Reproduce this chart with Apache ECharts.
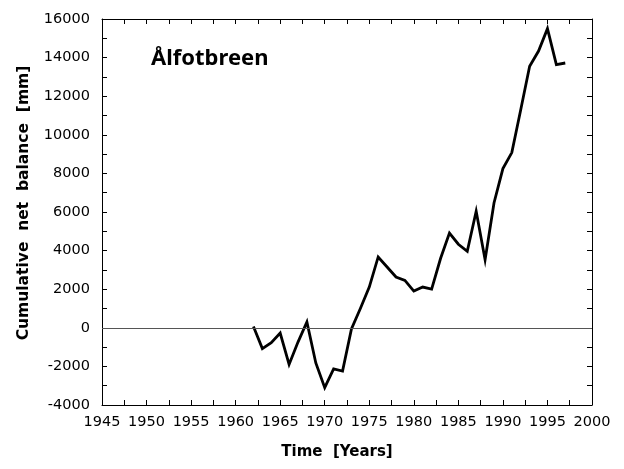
<!DOCTYPE html>
<html>
<head>
<meta charset="utf-8">
<script src="https://cdn.jsdelivr.net/npm/echarts@6/dist/echarts.min.js"></script>
<style>html,body{margin:0;padding:0;background:#fff}#c{width:624px;height:469px}</style>
</head>
<body>
<div id="c"></div>
<script>
var years = [1962,1963,1964,1965,1966,1967,1968,1969,1970,1971,1972,1973,1974,1975,1976,1977,1978,1979,1980,1981,1982,1983,1984,1985,1986,1987,1988,1989,1990,1991,1992,1993,1994,1995,1996,1997];
var cumulativeBalance = [70,-1080,-770,-270,-1900,-740,300,-1820,-3100,-2130,-2240,-60,1000,2110,3670,3150,2630,2460,1900,2110,2000,3590,4910,4330,3960,6040,3530,6470,8250,9080,11300,13550,14340,15500,13640,13720];
var glacierName = '\u00C5lfotbreen';
var xTitle = 'Time  [Years]';
var yTitle = 'Cumulative  net  balance  [mm]';

var FONT = 'DejaVu Sans';
var chart = echarts.init(document.getElementById('c'), null, {renderer:'canvas'});
var data = years.map(function(y,i){return [y, cumulativeBalance[i]];});
var axisLine = {show:true, onZero:false, lineStyle:{color:'#000', width:1}};
var tick = {show:true, inside:true, length:5, lineStyle:{color:'#000', width:1}};
var minor = {show:true, splitNumber:2, length:5, lineStyle:{color:'#000', width:1}};
var plain = function(v){return String(v);};
chart.setOption({
  animation:false,
  backgroundColor:'#fff',
  grid:{left:102, right:32, top:19, bottom:64},
  graphic:[{type:'text', left:151, top:48, style:{text:glacierName, font:'bold 22px "Noto Sans"', fill:'#000'}}],
  xAxis:[{
    type:'value', min:1945, max:2000, interval:5,
    axisLine:axisLine, axisTick:tick, minorTick:minor,
    splitLine:{show:false},
    axisLabel:{color:'#000', fontFamily:FONT, fontSize:14.5, margin:10, formatter:plain},
    name:xTitle, nameLocation:'middle', nameGap:40,
    nameTextStyle:{color:'#000', fontFamily:FONT, fontWeight:'bold', fontSize:15, padding:[0,20,0,0]}
  },{
    type:'value', position:'top', min:1945, max:2000, interval:5,
    axisLine:axisLine, axisTick:tick, minorTick:minor, axisLabel:{show:false}, splitLine:{show:false}
  }],
  yAxis:[{
    type:'value', min:-4000, max:16000, interval:2000,
    axisLine:axisLine, axisTick:tick, minorTick:minor,
    splitLine:{show:false},
    axisLabel:{color:'#000', fontFamily:FONT, fontSize:14.5, margin:12, formatter:plain},
    name:yTitle, nameLocation:'middle', nameGap:70, nameRotate:90,
    nameTextStyle:{color:'#000', fontFamily:FONT, fontWeight:'bold', fontSize:15.5, padding:[0,0,0,18]}
  },{
    type:'value', position:'right', min:-4000, max:16000, interval:2000,
    axisLine:axisLine, axisTick:tick, minorTick:minor, axisLabel:{show:false}, splitLine:{show:false}
  }],
  series:[{
    type:'line', data:data, showSymbol:false, symbol:'none',
    lineStyle:{color:'#000', width:2.8, join:'miter'},
    markLine:{silent:true, symbol:['none','none'], label:{show:false},
      lineStyle:{color:'#555', width:1, type:'solid'}, data:[{yAxis:0}]}
  }]
});
</script>
</body>
</html>
